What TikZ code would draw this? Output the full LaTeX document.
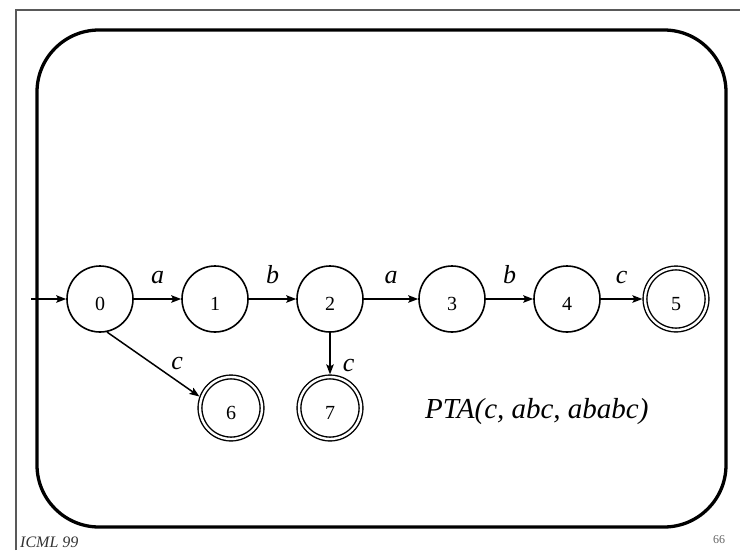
\documentclass[tikz,border=0pt]{standalone}
\usepackage{fontspec}
\setmainfont{Liberation Serif}
\usetikzlibrary{arrows.meta,calc}
\begin{document}
\begin{tikzpicture}[x=1pt,y=-1pt,
  state/.style={circle,draw,line width=1.6pt,minimum size=66pt,inner sep=0pt,
    font=\fontsize{20}{20}\selectfont,text height=22pt,text depth=0pt},
  accept/.style={state,double,double distance=2.4pt,line width=1.4pt,
    minimum size=62pt,outer sep=2.6pt},
  trans/.style={-{Stealth[length=10pt,width=7.5pt,inset=2pt]},line width=1.5pt},
  sym/.style={font=\fontsize{26}{26}\selectfont\itshape,inner sep=0pt},
  frameline/.style={draw=black!65,line width=2.6pt}]

\useasboundingbox (0,0) rectangle (740,550);

% slide frame and rounded panel
\draw[frameline] (16,550) -- (16,10) -- (740,10);
\draw[line width=3.3pt,rounded corners=62pt] (37,30) rectangle (726,527);

% states of the prefix tree acceptor
\node[state]  (q0) at (100,299) {0};
\node[state]  (q1) at (215,299) {1};
\node[state]  (q2) at (330,299) {2};
\node[state]  (q3) at (452,299) {3};
\node[state]  (q4) at (567,299) {4};
\node[accept] (q5) at (676,299) {5};
\node[accept] (q6) at (231,408) {6};
\node[accept] (q7) at (330,408) {7};
\coordinate (init) at (31,299);

% transitions
\draw[trans] (init) -- (q0);
\draw[trans] (q0) -- node[sym,anchor=base,yshift=16pt]{a} (q1);
\draw[trans] (q1) -- node[sym,anchor=base,yshift=16pt]{b} (q2);
\draw[trans] (q2) -- node[sym,anchor=base,yshift=16pt]{a} (q3);
\draw[trans] (q3) -- node[sym,anchor=base,yshift=16pt]{b} (q4);
\draw[trans] (q4) -- node[sym,anchor=base,yshift=16pt]{c} (q5);
\draw[trans] (q0.-78) -- node[sym,xshift=24pt,yshift=1pt]{c} (q6.160);
\draw[trans] (q2) -- node[sym,pos=0.78,right=12pt]{c} (q7);

% caption and footer
\node[font=\fontsize{29}{29}\selectfont\itshape,anchor=base west,inner sep=0pt]
  (pta) at (425,418) {PTA(c, abc, ababc)};
\node[font=\fontsize{16}{16}\selectfont\itshape,text=black!80,anchor=base west,inner sep=0pt]
  (venue) at (20,547) {ICML 99};
\node[font=\fontsize{12}{12}\selectfont,text=black!60] (page) at (719,540) {66};
\end{tikzpicture}
\end{document}
